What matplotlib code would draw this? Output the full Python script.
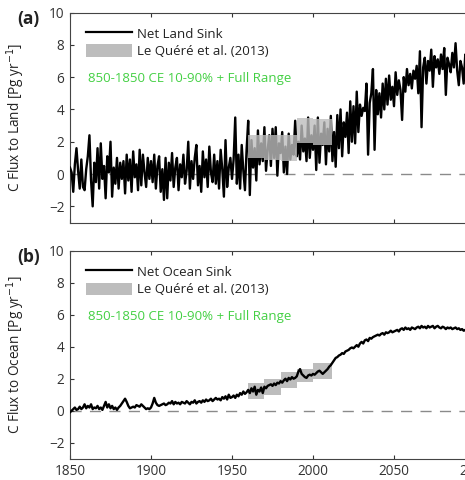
import matplotlib
matplotlib.use("Agg")
import matplotlib.pyplot as plt
import numpy as np
from matplotlib.patches import Patch
from matplotlib.lines import Line2D

plt.rcParams['font.family'] = ['Open Sans', 'DejaVu Sans']

years = list(range(1850, 2101))

land = [
    0.4, 0.1, -1.1, 0.6, 1.6, 0.2, -0.9, 0.9, -0.8, -1.0,
    0.3, 1.1, 2.4, -0.4, -2.0, 0.7, -0.5, 1.6, -0.9, 1.9,
    -0.3, 0.5, -1.5, 1.1, 0.1, 2.0, -1.4, 0.4, -0.6, 1.0,
    -0.9, 0.7, -0.3, 0.8, -1.2, 1.2, -0.4, 0.9, -1.1, 1.4,
    -0.2, 0.6, -1.0, 1.5, -0.7, 1.2, 0.1, -0.8, 1.0, -0.3,
    0.8, -0.5, 1.2, -0.9, 0.5, 1.1, -1.1, 0.3, -1.6, 1.0,
    -1.5, 0.7, -0.4, 1.3, -0.8, 0.4, 1.0, -1.0, 0.6, -0.2,
    1.2, -0.6, 0.2, 2.0, -0.9, 0.8, -0.3, 1.0, 1.8, -0.7,
    0.5, -1.1, 1.4, -0.2, 0.9, -0.8, 1.7, 0.1, -0.5, 1.2,
    -0.6, 0.8, -0.9, 1.5, 0.3, -1.4, 2.1, -0.8, 0.4, 1.0,
    -0.3, 0.9, 3.5, -0.6, 1.2, -0.9, 1.8, 0.2, -1.0, 1.5,
    3.3, -1.3, 2.1, 0.4, 1.6, -0.4, 2.7, 0.6, 1.9, 0.8,
    2.9, 0.2, 1.5, 2.4, 0.5, 2.8, 1.0, 2.9, -0.1, 1.9,
    1.3, 2.6, 0.1, 1.7, 0.0, 2.5, 0.9, 1.8, 1.2, 3.3,
    1.1, 2.0, 0.9, 3.0, 1.4, 2.2, 0.8, 3.5, 1.0, 2.4,
    1.5, 3.0, 0.25, 3.5, 0.7, 2.5, 1.8, 3.2, 0.6, 2.8,
    1.4, 3.6, 0.8, 2.6, 0.45, 3.65, 1.6, 4.0, 1.1, 3.2,
    2.3, 3.8, 1.3, 4.5, 2.0, 4.2, 1.9, 5.1, 2.6, 4.3,
    3.6, 4.1, 3.9, 5.6, 1.2, 4.4, 5.0, 6.5, 1.5, 5.2,
    3.7, 5.0, 3.5, 5.6, 4.0, 5.9, 4.3, 6.1, 4.6, 5.4,
    4.2, 6.3, 4.9, 5.8, 5.2, 3.35, 6.0, 5.1, 6.5, 5.5,
    6.2, 5.3, 6.4, 5.9, 6.7, 5.0, 7.6, 2.9, 6.6, 7.2,
    5.6, 7.0, 6.4, 7.7, 5.4, 7.3, 6.6, 7.1, 6.2, 7.4,
    6.5, 7.8, 4.9, 7.2, 6.8, 6.3, 7.5, 6.6, 8.1, 6.4,
    5.5, 7.0, 6.6, 5.6, 7.4, 6.9, 7.2, 6.5, 7.0, 6.8,
    7.0,
]

ocean = [
    -0.1, 0.0, 0.1, 0.2, 0.05, 0.1, 0.25, 0.1, 0.2, 0.4,
    0.15, 0.3, 0.2, 0.4, 0.1, 0.2, 0.15, 0.3, 0.1, 0.2,
    0.05, 0.3, 0.55, 0.2, 0.4, 0.15, 0.3, 0.1, 0.2, 0.05,
    0.2, 0.3, 0.45, 0.6, 0.75, 0.55, 0.3, 0.15, 0.2, 0.25,
    0.2, 0.35, 0.3, 0.25, 0.4, 0.3, 0.2, 0.1, 0.15, 0.1,
    0.2, 0.45, 0.8, 0.5, 0.35, 0.3, 0.35, 0.4, 0.45, 0.35,
    0.4, 0.5, 0.45, 0.6, 0.4, 0.55, 0.45, 0.5, 0.4, 0.55,
    0.5, 0.45, 0.6, 0.5, 0.4, 0.55, 0.5, 0.65, 0.45, 0.55,
    0.6, 0.5, 0.65, 0.55, 0.7, 0.6, 0.65, 0.75, 0.6, 0.7,
    0.8, 0.7, 0.75, 0.65, 0.85, 0.75, 0.9, 0.7, 1.0, 0.8,
    0.85, 0.95, 0.8, 1.0, 0.9, 1.1, 1.0, 1.2, 1.05, 1.15,
    1.3, 1.1, 1.4, 1.2, 1.5, 1.0, 1.3, 1.2, 1.45, 1.1,
    1.5, 1.4, 1.55, 1.6, 1.65, 1.55, 1.7, 1.6, 1.75, 1.7,
    1.85, 1.75, 1.9, 2.0, 1.85, 2.05, 1.95, 2.1, 2.0, 2.05,
    2.15, 2.45, 2.6, 2.3, 2.2, 2.1, 2.05, 2.2, 2.25, 2.2,
    2.3, 2.25, 2.35, 2.45, 2.5, 2.4, 2.3, 2.4, 2.5, 2.6,
    2.75, 2.85, 3.0, 3.15, 3.3, 3.35, 3.45, 3.5, 3.6, 3.55,
    3.7, 3.75, 3.8, 3.9, 3.95, 3.9, 4.0, 4.1, 4.0, 4.2,
    4.3, 4.2, 4.4, 4.45, 4.35, 4.55, 4.5, 4.6, 4.65, 4.7,
    4.75, 4.7, 4.8, 4.85, 4.75, 4.9, 4.85, 4.9, 5.0, 4.9,
    4.95, 5.0, 5.05, 4.95, 5.1, 5.15, 5.05, 5.2, 5.1, 5.15,
    5.05, 5.2, 5.15, 5.1, 5.2, 5.25, 5.15, 5.3, 5.2, 5.25,
    5.15, 5.3, 5.2, 5.25, 5.3, 5.15, 5.25, 5.3, 5.2, 5.15,
    5.25, 5.2, 5.1, 5.2, 5.15, 5.2, 5.1, 5.15, 5.2, 5.1,
    5.15, 5.05, 5.1, 5.0, 5.05, 4.95, 5.0, 5.05, 4.95, 5.0,
    5.0,
]

# Le Quere et al. (2013) decadal ranges
lq_start = [1960, 1970, 1980, 1990, 2000]
lq_end = [1970, 1980, 1990, 2000, 2012]
lq_land_lo = [1.0, 0.9, 0.8, 1.9, 1.8]
lq_land_hi = [2.4, 2.4, 2.4, 3.5, 3.4]
lq_ocean_lo = [0.7, 1.0, 1.4, 1.8, 2.0]
lq_ocean_hi = [1.7, 2.0, 2.4, 2.6, 3.0]

xticks = [1850, 1900, 1950, 2000, 2050, 2100]
yticks = [-2, 0, 2, 4, 6, 8, 10]

W, H = 465, 480
fig = plt.figure(figsize=(W / 100, H / 100), dpi=100)

left = 70 / W
width = 405 / W
ax_a = fig.add_axes([left, 1 - 222.5 / H, width, 210 / H])
ax_b = fig.add_axes([left, 1 - 458.7 / H, width, 208 / H])

green = '#44d044'
box_color = '#bdbdbd'
tick_color = '#333333'

panels = [
    (ax_a, land, lq_land_lo, lq_land_hi, 'Net Land Sink', 'C Flux to Land [Pg yr$^{-1}$]', '(a)', True, 210),
    (ax_b, ocean, lq_ocean_lo, lq_ocean_hi, 'Net Ocean Sink', 'C Flux to Ocean [Pg yr$^{-1}$]', '(b)', False, 208),
]

for ax, series, lo, hi, name, ylabel, tag, box_on_top, hpx in panels:
    ax.axhline(0, color='#8a8a8a', lw=1.0, dashes=(8, 6), zorder=1)
    ax.plot(years, series, color='black', lw=1.7, zorder=3)
    for s, e, l, h in zip(lq_start, lq_end, lo, hi):
        if box_on_top:
            ax.fill_between([s, e], [l, l], [h, h], color=box_color, alpha=0.8, lw=0, zorder=4)
        else:
            ax.fill_between([s, e], [l, l], [h, h], color=box_color, alpha=1.0, lw=0, zorder=2)
    ax.set_xlim(1850, 2100)
    ax.set_ylim(-3, 10)
    ax.set_xticks(xticks)
    ax.set_yticks(yticks)
    ax.set_yticklabels(['\u22122', '0', '2', '4', '6', '8', '10'])
    ax.tick_params(direction='in', top=True, right=True, length=3, width=0.8,
                   labelsize=9.8, colors=tick_color, pad=4)
    for sp in ax.spines.values():
        sp.set_color('#444444')
        sp.set_linewidth(0.8)
    ax.set_ylabel(ylabel, fontsize=9.8, color='#222222', labelpad=5)
    ax.yaxis.set_label_coords(-0.105, 0.5)
    handles = [Line2D([], [], color='black', lw=1.6),
               Patch(facecolor=box_color, edgecolor='none')]
    leg = ax.legend(handles, [name, 'Le Quéré et al. (2013)'], loc='upper left',
                    frameon=False, fontsize=9.5, handlelength=3.5, handleheight=1.1,
                    handletextpad=0.4, labelspacing=0.3,
                    bbox_to_anchor=(0.02, 0.97), borderaxespad=0.2)
    for t in leg.get_texts():
        t.set_color('#222222')
    ax.text(0.045, 0.685, '850-1850 CE 10-90% + Full Range', transform=ax.transAxes,
            color=green, fontsize=9.5, va='center', ha='left')
    ax.text(-0.131, 1 - 6.5 / hpx, tag, transform=ax.transAxes, fontsize=12.5, fontweight='bold',
            va='center', ha='left', color='#222222')

ax_a.tick_params(labelbottom=False)

fig.savefig('out.png', dpi=100)
